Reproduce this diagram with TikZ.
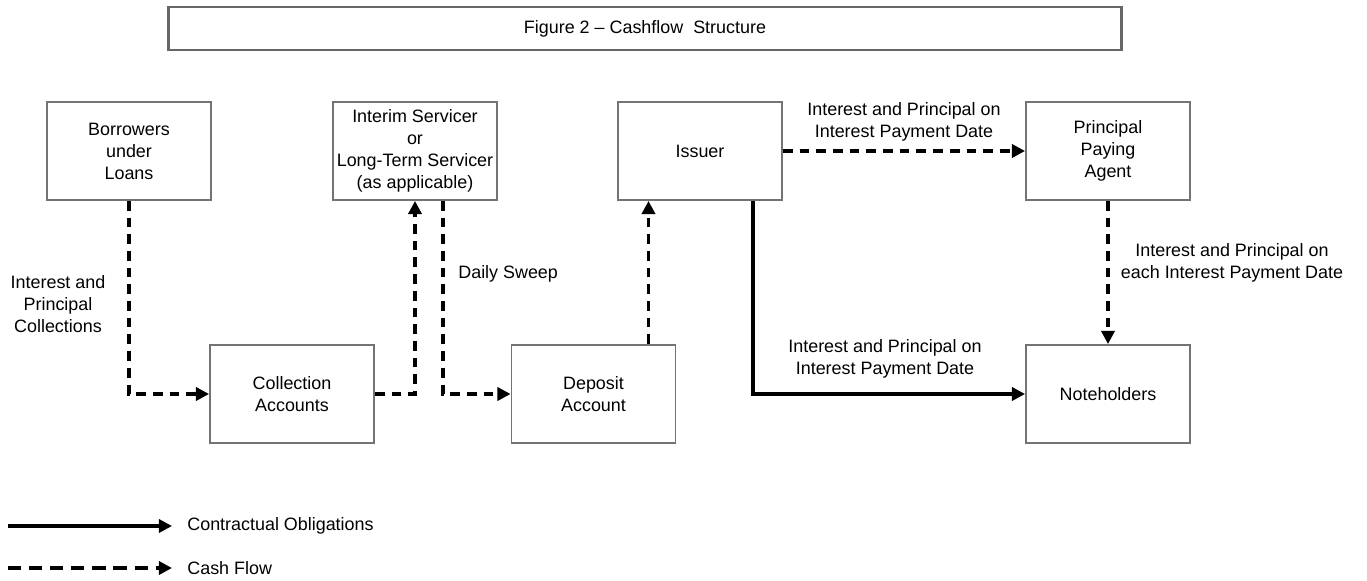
\documentclass[tikz,border=0pt]{standalone}
\usepackage{fontspec}
\setmainfont{Liberation Sans}
\usepackage{tikz}
\usetikzlibrary{positioning,calc,arrows.meta}
\tikzset{>={Triangle[length=7.5pt,width=7.5pt]}}

\begin{document}
\begin{tikzpicture}[x=0.02cm,y=-0.02cm,
  every node/.style={font=\fontsize{10.2}{12.5}\selectfont},
  box/.style={draw=black!55,line width=1.1pt,minimum width=3.28cm,minimum height=1.96cm,align=center,inner xsep=0pt},
  cash/.style={->,line width=2pt,dash pattern=on 5.5pt off 4pt},
  oblig/.style={->,line width=2pt},
  lbl/.style={align=center,inner sep=0pt}]
\useasboundingbox (0,0) rectangle (1367,581);
\node[draw=black!60,line width=1.4pt,minimum width=19.06cm,minimum height=0.86cm] (title) at (645,28.5) {Figure 2 -- Cashflow\ \ Structure};
% top row
\node[box] (borr) at (129,151) {Borrowers\\under\\Loans};
\node[box] (serv) at (415,151) {Interim Servicer\\or\\Long-Term Servicer\\(as applicable)};
\node[box] (iss) at (700,151) {Issuer};
\node[box] (ppa) at (1108,151) {Principal\\Paying\\Agent};
% bottom row
\node[box] (coll) at (292,394) {Collection\\Accounts};
\node[box] (dep) at (593.5,394) {Deposit\\Account};
\node[box] (note) at (1108,394) {Noteholders};
\coordinate (s1) at ($(serv.south)+(28,0)$);
\coordinate (d1) at ($(dep.north)+(55,0)$);
\coordinate (i1) at ($(iss.south)+(53,0)$);
% flows
\draw[cash] (borr.south) |- (coll.west);
\draw[cash] (coll.east) -| (serv.south);
\draw[cash] (s1) |- (dep.west);
\draw[cash] (d1) -- (d1 |- iss.south);
\draw[cash] (iss.east) -- (ppa.west);
\draw[cash] (ppa.south) -- (note.north);
\draw[oblig] (i1) |- (note.west);
% labels
\node[lbl] (l1) at (58,304) {Interest and\\Principal\\Collections};
\node[lbl,anchor=west] (l2) at (458,274) {Daily Sweep};
\node[lbl] (l3) at (904,122) {Interest and Principal on\\Interest Payment Date};
\node[lbl] (l4) at (1232,263) {Interest and Principal on\\each Interest Payment Date};
\node[lbl] (l5) at (885,359) {Interest and Principal on\\Interest Payment Date};
% legend
\node[lbl,anchor=west] (kobl) at (187,526) {Contractual Obligations};
\node[lbl,anchor=west] (kcash) at (187,568) {Cash Flow};
\coordinate (k1) at (8,526);
\coordinate (k2) at (8,568);
\draw[oblig] (k1) -- ($(kobl.west)+(-15,0)$);
\draw[cash,dash pattern=on 7.5pt off 4.5pt] (k2) -- ($(kcash.west)+(-15,0)$);
\end{tikzpicture}
\end{document}
